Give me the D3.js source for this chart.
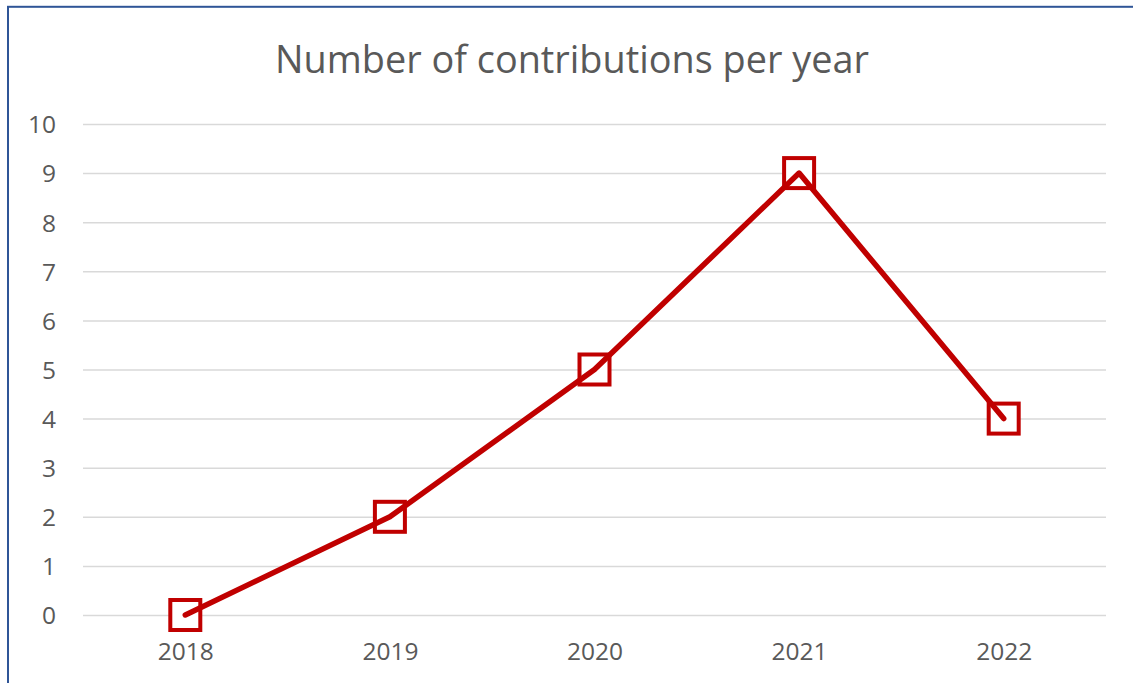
<!DOCTYPE html>
<html>
<head>
<meta charset="utf-8">
<script src="https://cdn.jsdelivr.net/npm/d3@7"></script>
<style>
  html, body { margin: 0; padding: 0; background: #fff; }
  svg { display: block; }
</style>
</head>
<body>
<svg id="chart" width="1133" height="683"></svg>
<script>
// Contributions per year
const years = ["2018", "2019", "2020", "2021", "2022"];
const contributions = [0, 2, 5, 9, 4];
const yTicks = [0, 1, 2, 3, 4, 5, 6, 7, 8, 9, 10];
const chartTitle = "Number of contributions per year";

const W = 1133, H = 683;
const plot = { left: 83, right: 1106, top: 124, bottom: 615 };
const textColor = "#595959";
const lineColor = "#C00000";
const gridColor = "#D9D9D9";
const font = "'Open Sans', 'Liberation Sans', sans-serif";

const svg = d3.select("#chart");

// frame around the chart area
svg.append("rect")
  .attr("x", 8).attr("y", 6.8)
  .attr("width", W + 50).attr("height", H + 50)
  .attr("fill", "#fff")
  .attr("stroke", "#2F5597")
  .attr("stroke-width", 2);

const x = d3.scalePoint().domain(years).range([plot.left, plot.right]).padding(0.5);
const y = d3.scaleLinear().domain([0, 10]).range([plot.bottom, plot.top]);

// title, sized to its intended width
const title = svg.append("text")
  .attr("x", 572).attr("y", 73)
  .attr("text-anchor", "middle")
  .attr("font-family", font)
  .attr("fill", textColor)
  .attr("font-size", 36)
  .text(chartTitle);
const targetWidth = 594;
const w0 = title.node().getComputedTextLength();
title.attr("font-size", 36 * targetWidth / w0);

// horizontal gridlines and y labels
const yAxis = d3.axisLeft(y).tickValues(yTicks).tickSize(-(plot.right - plot.left)).tickPadding(27).tickFormat(d3.format("d"));
const gy = svg.append("g").attr("transform", `translate(${plot.left},0)`).call(yAxis);
gy.select(".domain").remove();
gy.selectAll(".tick line").attr("stroke", gridColor).attr("stroke-width", 1.5);
gy.selectAll(".tick text")
  .attr("font-family", font).attr("font-size", 24.5)
  .attr("fill", textColor).attr("dy", "0.36em");

// x labels
const xAxis = d3.axisBottom(x).tickSize(0).tickPadding(0);
const gx = svg.append("g").attr("transform", `translate(0,${plot.bottom})`).call(xAxis);
gx.select(".domain").remove();
gx.selectAll(".tick text")
  .attr("font-family", font).attr("font-size", 24.5)
  .attr("fill", textColor).attr("y", 45).attr("dy", 0);

const pts = years.map((yr, i) => ({ yr, v: contributions[i] }));

// square markers
const ms = 30;
svg.append("g").selectAll("rect").data(pts).join("rect")
  .attr("x", d => x(d.yr) - ms / 2)
  .attr("y", d => y(d.v) - ms / 2)
  .attr("width", ms).attr("height", ms)
  .attr("fill", "#fff")
  .attr("stroke", lineColor)
  .attr("stroke-width", 4);

// series line
const line = d3.line().x(d => x(d.yr)).y(d => y(d.v));
svg.append("path").datum(pts)
  .attr("d", line)
  .attr("fill", "none")
  .attr("stroke", lineColor)
  .attr("stroke-width", 5.5)
  .attr("stroke-linecap", "round")
  .attr("stroke-linejoin", "round");
</script>
</body>
</html>
